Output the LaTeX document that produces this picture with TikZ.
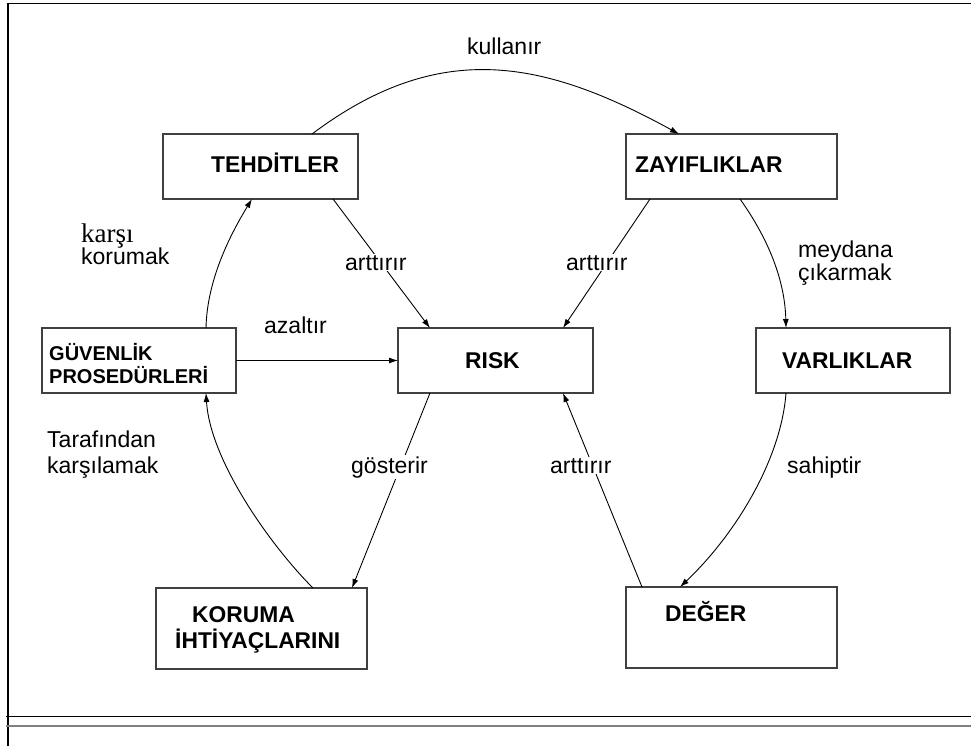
\documentclass[tikz,border=0pt]{standalone}
\usepackage{fontspec}
\setmainfont{Liberation Sans}
\newfontfamily\tms{Liberation Serif}
\usetikzlibrary{arrows.meta,calc}
\begin{document}
\begin{tikzpicture}[x=1pt,y=-1pt,
  box/.style={draw=black!75,line width=1.2pt,inner sep=0pt,outer sep=0pt},
  boxtext/.style={inner sep=0pt,anchor=base west,font=\fontsize{22.8}{26}\selectfont\bfseries},
  smalltext/.style={inner sep=0pt,anchor=base west,font=\fontsize{20}{24}\selectfont\bfseries},
  lbl/.style={inner sep=1pt,anchor=base west,fill=white,font=\fontsize{23}{27}\selectfont},
  conn/.style={line width=0.9pt,-{Latex[length=9pt,width=6pt]}}]
\useasboundingbox (0,0) rectangle (971,746);

% page frame
\draw[line width=2pt] (7.5,3) -- (7.5,746);
\draw[line width=1.3pt] (7,3.5) -- (971,3.5);
\draw[line width=1pt] (6,716.5) -- (971,716.5);
\draw[line width=2pt,gray] (6,725.5) -- (971,725.5);

% boxes
\node[box,minimum width=195pt,minimum height=65pt] (teh) at (260.5,166.5) {};
\node[box,minimum width=211pt,minimum height=65pt] (zay) at (731.5,166.5) {};
\node[box,minimum width=194pt,minimum height=65pt] (guv) at (139,360.5) {};
\node[box,minimum width=195pt,minimum height=65pt] (risk) at (495.5,360.5) {};
\node[box,minimum width=194pt,minimum height=65pt] (var) at (853,360.5) {};
\node[box,minimum width=211pt,minimum height=81pt] (kor) at (261.5,628.5) {};
\node[box,minimum width=211pt,minimum height=81pt] (deg) at (731.5,627.5) {};

% box texts
\node[boxtext] (tehT) at (211,173) {TEHDİTLER};
\node[boxtext] (zayT) at (635,173) {ZAYIFLIKLAR};
\node[smalltext] (guvT1) at (49,360) {GÜVENLİK};
\node[smalltext] (guvT2) at (49,383) {PROSEDÜRLERİ};
\node[boxtext] (riskT) at (465,368) {RISK};
\node[boxtext] (varT) at (782,368) {VARLIKLAR};
\node[boxtext] (korT1) at (192,622) {KORUMA};
\node[boxtext] (korT2) at (175,648) {İHTİYAÇLARINI};
\node[boxtext] (degT) at (665,621) {DEĞER};

% connectors
\draw[conn] ($(teh.north west)+(149,0)$)
  .. controls ($(teh.north west)+(277,-96)$) and ($(zay.north west)+(-82,-74)$)
  .. ($(zay.north west)+(53,0)$);
\draw[conn] ($(zay.south west)+(114,0)$)
  .. controls ($(zay.south west)+(146,45)$) and ($(var.north west)+(29,-43)$)
  .. ($(var.north west)+(30,0)$);
\draw[conn] ($(var.south west)+(30,0)$)
  .. controls ($(var.south west)+(25,67)$) and ($(deg.north west)+(109,-52)$)
  .. ($(deg.north west)+(54,0)$);
\draw[conn] ($(deg.north west)+(16,0)$) -- ($(risk.south west)+(165,0)$);
\draw[conn] ($(risk.south west)+(32,0)$) -- ($(kor.north west)+(196,0)$);
\draw[conn] ($(kor.north west)+(157,0)$)
  .. controls ($(kor.north west)+(114,-43)$) and ($(guv.south west)+(168,67)$)
  .. ($(guv.south west)+(164,0)$);
\draw[conn] ($(guv.north west)+(164,0)$)
  .. controls ($(guv.north west)+(165,-48)$) and ($(teh.south west)+(67,36)$)
  .. ($(teh.south west)+(89,0)$);
\draw[conn] ($(teh.south west)+(170,0)$) -- ($(risk.north west)+(32,0)$);
\draw[conn] ($(zay.south west)+(24,0)$) -- ($(risk.north west)+(165,0)$);
\draw[conn] (guv.east |- risk.west) -- (risk.west);

% connector labels
\node[lbl] (l1) at (466,55) {kullanır};
\node[lbl,fill=none] (l2a) at (797,257) {meydana};
\node[lbl,fill=none] (l2b) at (797,280) {çıkarmak};
\node[lbl,fill=none,inner sep=0pt,font=\tms\fontsize{27}{30}\selectfont] (l3a) at (81,242) {karşı};
\node[lbl,fill=none,inner sep=0pt] (l3b) at (81,264) {korumak};
\node[lbl] (l4) at (344,270) {arttırır};
\node[lbl] (l5) at (565,270) {arttırır};
\node[lbl,fill=none] (l6) at (263,333) {azaltır};
\node[lbl,fill=none] (l7a) at (46,447) {Tarafından};
\node[lbl,fill=none] (l7b) at (46,473) {karşılamak};
\node[lbl] (l8) at (350,473) {gösterir};
\node[lbl] (l9) at (549,473) {arttırır};
\node[lbl,fill=none] (l10) at (786,473) {sahiptir};
\end{tikzpicture}
\end{document}
